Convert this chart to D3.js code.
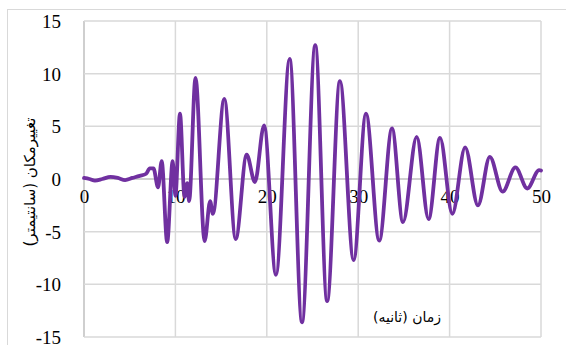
<!DOCTYPE html>
<html>
<head>
<meta charset="utf-8">
<script src="https://cdn.jsdelivr.net/npm/d3@7"></script>
<style>
  html, body { margin: 0; padding: 0; background: #fff; overflow: hidden; }
  svg { display: block; }
  svg .tick text { font-family: "Liberation Serif", "Tinos", "Times New Roman", "DejaVu Serif", serif !important; font-size: 19px; fill: #000; }
</style>
</head>
<body>
<svg id="chart" width="566" height="345"></svg>
<script>
// Roof displacement time history (cm) versus time (s)
const timeSec = [
  0, 0.6, 1.2, 2.0, 2.9, 3.7, 4.5, 5.3, 6.1, 6.8, 7.2, 7.6,
  8.1, 8.5, 9.1, 9.7, 10.0, 10.5, 11.0, 11.3, 11.5, 12.2,
  13.2, 13.8, 14.1, 15.35, 16.6, 17.8, 18.7, 19.7, 21.0,
  22.5, 23.85, 25.3, 26.6, 28.0, 29.5, 30.85, 32.3, 33.7,
  34.9, 36.4, 37.7, 38.95, 40.3, 41.7, 43.1, 44.4, 45.8,
  47.2, 48.5, 49.8, 50
];
const displacementCm = [
  0.1, 0.0, -0.15, 0.0, 0.2, 0.1, -0.1, 0.1, 0.3, 0.5, 1.0, 1.0,
  -0.8, 1.7, -6.0, 1.7, -1.6, 6.2, -1.7, -0.4, -2.1, 9.6,
  -5.9, -2.1, -3.3, 7.6, -5.7, 2.3, -0.3, 5.1, -9.1,
  11.4, -13.6, 12.7, -11.6, 9.3, -7.7, 6.2, -5.85, 4.8,
  -4.1, 4.0, -3.8, 3.9, -3.3, 3.0, -2.5, 2.1, -1.2,
  1.1, -0.9, 0.85, 0.8
];
const xTicks = [0, 10, 20, 30, 40, 50];
const yTicks = [-15, -10, -5, 0, 5, 10, 15];

const chartTitle = "تاریخچه زمانی تغییرمکان طبقه بام ساختمان تحت رکورد زلزله";
const xTitle = "زمان (ثانیه)";
const yTitle = "تغییرمکان (سانتیمتر)";

const svg = d3.select("#chart");
const plot = { left: 84, right: 541, top: 21, bottom: 337 };

const x = d3.scaleLinear().domain([0, 50]).range([plot.left, plot.right]);
const y = d3.scaleLinear().domain([-15, 15]).range([plot.bottom, plot.top]);

// chart area frame (extends past the visible window)
svg.append("rect")
  .attr("x", 7.5).attr("y", 9.5)
  .attr("width", 620).attr("height", 400)
  .attr("fill", "#fff")
  .attr("stroke", "#d9d9d9").attr("stroke-width", 1);

// title, mostly above the window
svg.append("text")
  .attr("x", 568).attr("y", 1)
  .attr("text-anchor", "end")
  .attr("direction", "rtl")
  .style("font-family", "DejaVu Sans")
  .style("font-size", "15px")
  .attr("fill", "#000")
  .text(chartTitle);

// gridlines
const grid = svg.append("g");
grid.selectAll("line.v").data(xTicks).join("line")
  .attr("class", "v")
  .attr("x1", d => x(d)).attr("x2", d => x(d))
  .attr("y1", plot.top).attr("y2", plot.bottom)
  .attr("stroke", d => d === 0 ? "#bfbfbf" : "#d9d9d9")
  .attr("stroke-width", 1.5);
grid.selectAll("line.h").data(yTicks).join("line")
  .attr("class", "h")
  .attr("x1", plot.left).attr("x2", plot.right)
  .attr("y1", d => y(d)).attr("y2", d => y(d))
  .attr("stroke", d => d === 0 ? "#bfbfbf" : "#d9d9d9")
  .attr("stroke-width", 1.5);

// tick labels (plain hyphen for negatives)
const fmt = d => String(d);
const serif = "'Liberation Serif', Tinos, 'Times New Roman', 'DejaVu Serif', serif";
const yAxis = d3.axisLeft(y).tickValues(yTicks).tickFormat(fmt).tickSize(0).tickPadding(0);
const gy = svg.append("g").attr("transform", `translate(${plot.left - 23},0)`).call(yAxis);
gy.attr("font-family", serif).attr("font-size", 19);
gy.select(".domain").remove();
gy.selectAll("text").attr("dy", "0.35em").attr("font-family", serif);

const xAxis = d3.axisBottom(x).tickValues(xTicks).tickFormat(fmt).tickSize(0).tickPadding(0);
const gx = svg.append("g").attr("transform", `translate(0,${y(0) + 17})`).call(xAxis);
gx.attr("font-family", serif).attr("font-size", 19);
gx.select(".domain").remove();
gx.selectAll("text").attr("dy", "0.35em").attr("font-family", serif);

// displacement line
const pts = timeSec.map((t, i) => [t, displacementCm[i]]);
const line = d3.line()
  .x(d => x(d[0]))
  .y(d => y(d[1]))
  .curve(d3.curveMonotoneX);
svg.append("path")
  .datum(pts)
  .attr("d", line)
  .attr("fill", "none")
  .attr("stroke", "#7030a0")
  .attr("stroke-width", 3.8)
  .attr("stroke-linejoin", "round")
  .attr("stroke-linecap", "round");

// axis titles
svg.append("text")
  .attr("transform", `translate(35,${y(0) + 3}) rotate(-90)`)
  .attr("text-anchor", "middle")
  .attr("direction", "rtl")
  .style("font-family", "DejaVu Sans")
  .style("font-size", "15px")
  .attr("fill", "#000")
  .text(yTitle);

svg.append("text")
  .attr("x", 407).attr("y", 322)
  .attr("text-anchor", "middle")
  .attr("direction", "rtl")
  .style("font-family", "DejaVu Sans")
  .style("font-size", "14px")
  .attr("fill", "#000")
  .text(xTitle);
</script>
</body>
</html>
